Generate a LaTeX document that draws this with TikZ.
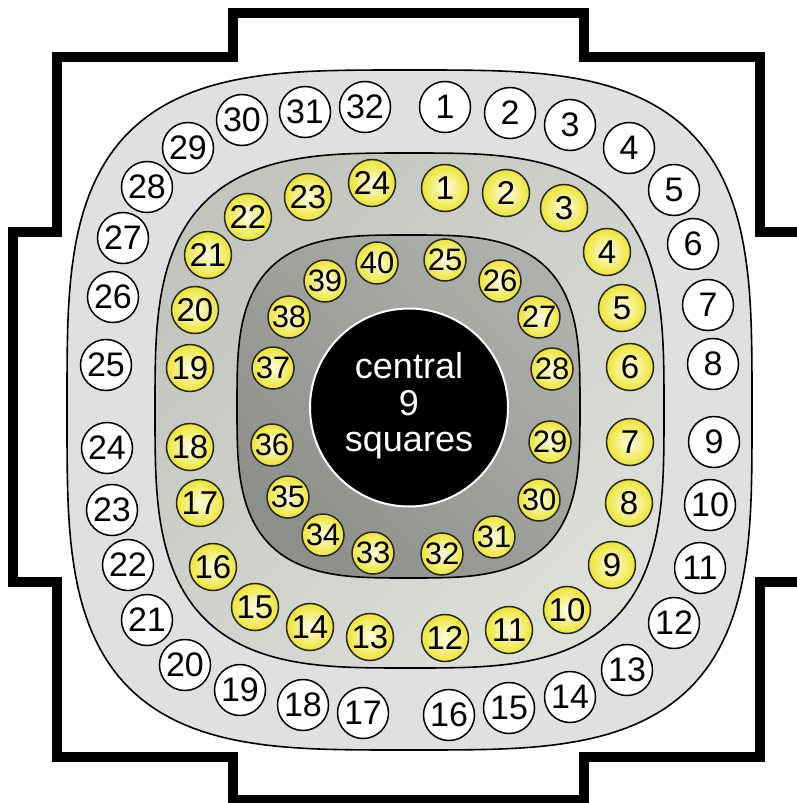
\documentclass[tikz,border=0pt]{standalone}
\usepackage{fontspec}
\setmainfont{Liberation Sans}
\definecolor{yfill}{RGB}{238,229,48}
\definecolor{ringout}{RGB}{224,224,224}
\definecolor{ringmidlight}{RGB}{221,223,218}
\definecolor{ringmiddark}{RGB}{194,197,190}
\definecolor{ringinlight}{RGB}{174,176,171}
\definecolor{ringindark}{RGB}{141,143,138}
\begin{document}
\begin{tikzpicture}[x=1pt,y=-1pt,
  wallline/.style={line width=9.5pt, draw=black, line join=miter},
  ringline/.style={line width=1.6pt, draw=black},
  wcirc/.style={circle, draw=black, line width=1.5pt, fill=white, minimum size=51pt, inner sep=0pt, font=\fontsize{34}{34}\selectfont},
  ycirc/.style={circle, draw=black!85, line width=1.5pt, inner color=yfill!12!white, outer color=yfill, minimum size=47pt, inner sep=0pt, font=\fontsize{33}{33}\selectfont},
  icirc/.style={ycirc, minimum size=42pt, font=\fontsize{31}{31}\selectfont}]
\useasboundingbox (0,0) rectangle (797,803);
\fill[white] (0,0) rectangle (797,803);
% outer wall
\draw[wallline] (13,232) -- (57,232) -- (57,57) -- (233,57) -- (233,13) -- (584,13) -- (584,57) -- (760,57) -- (760,232) -- (804,232) -- (804,582) -- (760,582) -- (760,757) -- (584,757) -- (584,800) -- (233,800) -- (233,757) -- (57,757) -- (57,582) -- (13,582) -- cycle;
% outer ring
\filldraw[ringline, fill=ringout] plot[domain=1:361, samples=181]
  ({409.5 + 342.5*cos(\x)/abs(cos(\x))*abs(cos(\x))^0.58}, {410 + 340*sin(\x)/abs(sin(\x))*abs(sin(\x))^0.58}) -- cycle;
% middle ring
\shadedraw[ringline, left color=ringmiddark, right color=ringmidlight, shading angle=45] plot[domain=1:361, samples=181]
  ({409.5 + 254.5*cos(\x)/abs(cos(\x))*abs(cos(\x))^0.62}, {410.5 + 257.5*sin(\x)/abs(sin(\x))*abs(sin(\x))^0.62}) -- cycle;
% inner ring
\shadedraw[ringline, left color=ringinlight, right color=ringindark, shading angle=-45] plot[domain=1:361, samples=181]
  ({408.5 + 171.5*cos(\x)/abs(cos(\x))*abs(cos(\x))^0.62}, {406.5 + 171.5*sin(\x)/abs(sin(\x))*abs(sin(\x))^0.62}) -- cycle;
% centre
\node[circle, fill=black, draw=white, line width=2pt, minimum size=198pt, inner sep=0pt] (core) at (409,407.5) {};
\node[text=white, align=center, font=\fontsize{36}{36.5}\selectfont] (coretext) at (409,406) {central\\9\\squares};
% outer white circles
\foreach \n/\px/\py in {1/445/107, 2/510/113, 3/570/125, 4/629/148, 5/674/190, 6/693/244, 7/708/305, 8/713/364, 9/714/442, 10/710/505, 11/700/568, 12/674/623, 13/627/670, 14/570/697, 15/509/708, 16/449/715, 17/363/713, 18/303/705, 19/240/690, 20/185/665, 21/147/620, 22/128/565, 23/112/510, 24/107/448, 25/106/365, 26/113/297, 27/123/238, 28/147/187, 29/188/148, 30/242/120, 31/305/112, 32/365/107}
  \node[wcirc] (w\n) at (\px,\py) {\n};
% middle yellow circles
\foreach \n/\px/\py in {1/445/188, 2/506/193, 3/564/208, 4/607/252, 5/622/308, 6/630/367, 7/630/442, 8/629/503, 9/612/565, 10/567/610, 11/509/630, 12/445/638, 13/370/637, 14/310/627, 15/255/607, 16/213/567, 17/200/503, 18/190/447, 19/190/368, 20/195/310, 21/208/255, 22/248/217, 23/308/197, 24/372/183}
  \node[ycirc] (y\n) at (\px,\py) {\n};
% inner yellow circles
\foreach \n/\px/\py in {25/445/260, 26/500/281, 27/539/317, 28/552/369, 29/550/442, 30/539/500, 31/494/537, 32/442/554, 33/373/553, 34/323/535, 35/288/497, 36/272/445, 37/273/368, 38/289/317, 39/325/281, 40/377/263}
  \node[icirc] (i\n) at (\px,\py) {\n};
\end{tikzpicture}
\end{document}
